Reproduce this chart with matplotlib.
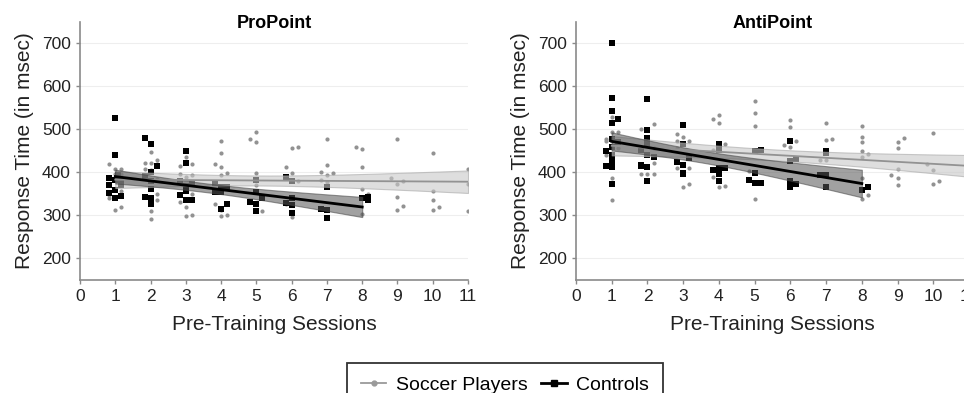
import numpy as np
import matplotlib.pyplot as plt
from matplotlib.lines import Line2D

plt.rcParams['font.family'] = ['Liberation Sans', 'DejaVu Sans']

# ProPoint - controls (session, RT)
pro_ctrl_x = [1, 1, 0.83, 0.83, 0.83, 1, 1.17, 1, 1.17, 1, 1.08, 1.17,
              1.83, 2, 1.83, 2, 2.17, 2, 2, 1.83, 2, 2,
              3, 3, 2.83, 3, 3.17, 3, 2.83, 3, 3.17,
              3.83, 4, 4.17, 4, 3.83, 4.17, 4, 4,
              5, 5, 4.83, 5, 5, 5.17,
              5.83, 6, 6, 5.83, 6, 6,
              7, 6.83, 7, 7,
              8, 8.17, 8.17]
pro_ctrl_y = [527, 441, 387, 371, 353, 341, 345, 359, 371, 383, 393, 382,
              480, 467, 392, 402, 414, 381, 362, 343, 341, 327,
              449, 422, 379, 369, 372, 356, 348, 335, 337,
              375, 366, 366, 354, 354, 326, 316, 314,
              382, 354, 331, 327, 310, 341,
              389, 380, 341, 329, 324, 306,
              365, 315, 312, 294,
              341, 343, 337]

# ProPoint - soccer players
pro_socc_x = [0.83, 1, 1.17, 1, 1.17, 0.83, 1, 1.17, 0.83, 1.17,
              1.83, 2, 2, 2.17, 2.17, 2, 2.17, 2.17, 2.17, 2, 2, 1.83,
              3, 3, 2.83, 3.17, 2.83, 3.17, 3, 2.83, 3, 3, 3.17, 3.17,
              4, 4, 3.83, 4, 4, 4.17, 3.83, 4, 4, 4.17,
              5, 5, 4.83, 5, 5, 5.17,
              6, 6.17, 5.83, 6, 6.17, 5.83, 6, 6,
              7, 7, 6.83, 7, 7.17, 6.83, 7,
              7.83, 8, 8, 8, 8.17, 8,
              9, 8.83, 9, 9.17, 9, 9, 9.17,
              10, 10, 10, 10, 10.17,
              11, 11, 11]
pro_socc_y = [420, 409, 409, 397, 397, 340, 313, 319, 347, 358,
              422, 447, 422, 429, 420, 406, 385, 351, 335, 310, 291, 409,
              436, 424, 415, 419, 397, 393, 389, 331, 320, 298, 300, 351,
              474, 446, 419, 412, 393, 399, 326, 312, 298, 300,
              495, 470, 478, 399, 370, 310,
              456, 460, 412, 399, 379, 326, 304, 296,
              478, 418, 401, 395, 399, 382, 378,
              460, 455, 412, 362, 351, 303,
              478, 387, 374, 380, 343, 313, 321,
              446, 356, 335, 313, 319,
              409, 372, 310]

# AntiPoint - controls
anti_ctrl_x = [1, 1, 1, 1, 1.17, 1.17, 1, 1, 0.83, 1, 1, 1, 0.83, 1,
               2, 2, 2, 2, 1.83, 2, 2.17, 1.83, 2, 2, 1.83,
               3, 3, 2.83, 3, 3.17, 3, 3, 3.17,
               4, 4, 4, 4.17, 3.83, 4, 4,
               5, 5.17, 5, 4.83, 5, 5.17,
               6, 6, 6.17, 6, 6, 6.17,
               7, 7, 6.83, 7, 7,
               8, 8.17]
anti_ctrl_y = [700, 573, 542, 516, 523, 470, 478, 458, 450, 441, 426, 413, 416, 374,
               571, 498, 481, 466, 451, 441, 437, 418, 412, 379, 415,
               510, 467, 424, 418, 436, 399, 397, 434,
               466, 451, 411, 411, 405, 396, 380,
               449, 453, 398, 382, 375, 376,
               472, 426, 432, 380, 365, 373,
               449, 444, 394, 394, 367,
               360, 365]

# AntiPoint - soccer players (session 11 lies past the cropped right edge)
anti_socc_x = [0.83, 0.83, 1, 1, 1.17, 1, 1, 0.83, 1.17,
               1.83, 2.17, 1.83, 2, 2.17, 2.17, 2.17,
               2.83, 3, 2.83, 3.17, 2.83, 3.17, 3, 3.17, 2.83,
               3.83, 4, 4, 3.83, 4, 4.17, 4.17, 3.83,
               5, 5, 5, 5, 4.83,
               6, 6, 5.83, 6.17, 6,
               7, 7, 7.17, 7, 7, 6.83,
               8, 8, 8, 8, 8, 8.17, 8, 8, 8.17,
               9, 9, 9.17, 8.83, 9, 9, 9,
               10, 9.83, 10, 10, 10.17,
               11, 11, 11, 11, 11]
anti_socc_y = [478, 472, 529, 495, 495, 388, 336, 441, 457,
               502, 512, 397, 396, 396, 422, 457,
               489, 483, 472, 472, 411, 411, 367, 373, 457,
               524, 534, 514, 389, 365, 369, 466, 453,
               567, 537, 508, 338, 403,
               521, 505, 464, 473, 460,
               514, 476, 478, 450, 430, 428,
               508, 483, 470, 450, 435, 443, 388, 338, 348,
               470, 457, 481, 394, 407, 388, 371,
               491, 420, 405, 374, 380,
               400, 385, 370, 360, 350]

panels = [
    ("ProPoint", pro_socc_x, pro_socc_y, pro_ctrl_x, pro_ctrl_y),
    ("AntiPoint", anti_socc_x, anti_socc_y, anti_ctrl_x, anti_ctrl_y),
]

socc_col = '#929292'
ctrl_col = 'black'


def fit_band(x, y, xs):
    x = np.asarray(x, float)
    y = np.asarray(y, float)
    n = len(x)
    b, a = np.polyfit(x, y, 1)
    res = y - (a + b * x)
    s = np.sqrt(np.sum(res ** 2) / (n - 2))
    sxx = np.sum((x - x.mean()) ** 2)
    half = 1.99 * s * np.sqrt(1 / n + (xs - x.mean()) ** 2 / sxx)
    yhat = a + b * xs
    return yhat, yhat - half, yhat + half


fig = plt.figure(figsize=(9.64, 3.93), dpi=100)
positions = [[0.083, 0.2875, 0.4025, 0.657], [0.5975, 0.2875, 0.4077, 0.657]]

for pos, (title, sx, sy, cx, cy) in zip(positions, panels):
    ax = fig.add_axes(pos)
    ax.patch.set_alpha(0)
    ax.set_xlim(0, 11)
    ax.set_ylim(150, 750)
    ax.set_yticks([200, 300, 400, 500, 600, 700])
    ax.set_xticks(range(12))
    ax.grid(axis='y', color='#eeeeee', linewidth=0.8)
    ax.set_axisbelow(True)
    for side in ['top', 'right']:
        ax.spines[side].set_visible(False)
    for side in ['left', 'bottom']:
        ax.spines[side].set_color('#8a8a8a')
        ax.spines[side].set_linewidth(1.2)
    ax.tick_params(colors='#8a8a8a', labelcolor='#222222', labelsize=12.5,
                   length=3, width=1)

    ax.scatter(sx, sy, s=9, color=socc_col, marker='o', linewidths=0, zorder=2)
    ax.scatter(cx, cy, s=18, color=ctrl_col, marker='s', linewidths=0, zorder=2)

    xs = np.linspace(min(np.round(sx)), max(np.round(sx)), 100)
    yhat, lo, hi = fit_band(sx, sy, xs)
    ax.fill_between(xs, lo, hi, color='#c8c8c8', alpha=0.6, edgecolor='#a8a8a8',
                    linewidth=0.8, zorder=3)
    ax.plot(xs, yhat, color=socc_col, linewidth=1.3, zorder=4)

    xc = np.linspace(min(np.round(cx)), max(np.round(cx)), 100)
    yhat, lo, hi = fit_band(cx, cy, xc)
    ax.fill_between(xc, lo, hi, color='#555555', alpha=0.55, edgecolor='#444444',
                    linewidth=0.8, zorder=3)
    ax.plot(xc, yhat, color=ctrl_col, linewidth=2, zorder=4)

    ax.text(0.5, 0.975, title, transform=ax.transAxes, ha='center',
            va='baseline', fontsize=13, fontweight='bold')
    ax.set_xlabel("Pre-Training Sessions", fontsize=15, color='#222222', labelpad=8)
    ax.set_ylabel("Response Time (in msec)", fontsize=15, color='#222222', labelpad=6)

handles = [
    Line2D([], [], color='#9a9a9a', marker='o', markersize=3.5, linewidth=1.3),
    Line2D([], [], color='black', marker='s', markersize=4.5, linewidth=2),
]
leg = fig.legend(handles, ["Soccer Players", "Controls"], loc='upper center',
                 bbox_to_anchor=(0.524, 1 - 353 / 393), ncol=2, fontsize=14,
                 frameon=True, fancybox=False, handlelength=1.3,
                 columnspacing=0.7, handletextpad=0.5, borderpad=0.7)
leg.get_frame().set_edgecolor('black')
leg.get_frame().set_linewidth(1.3)

fig.savefig("out.png", dpi=100)
